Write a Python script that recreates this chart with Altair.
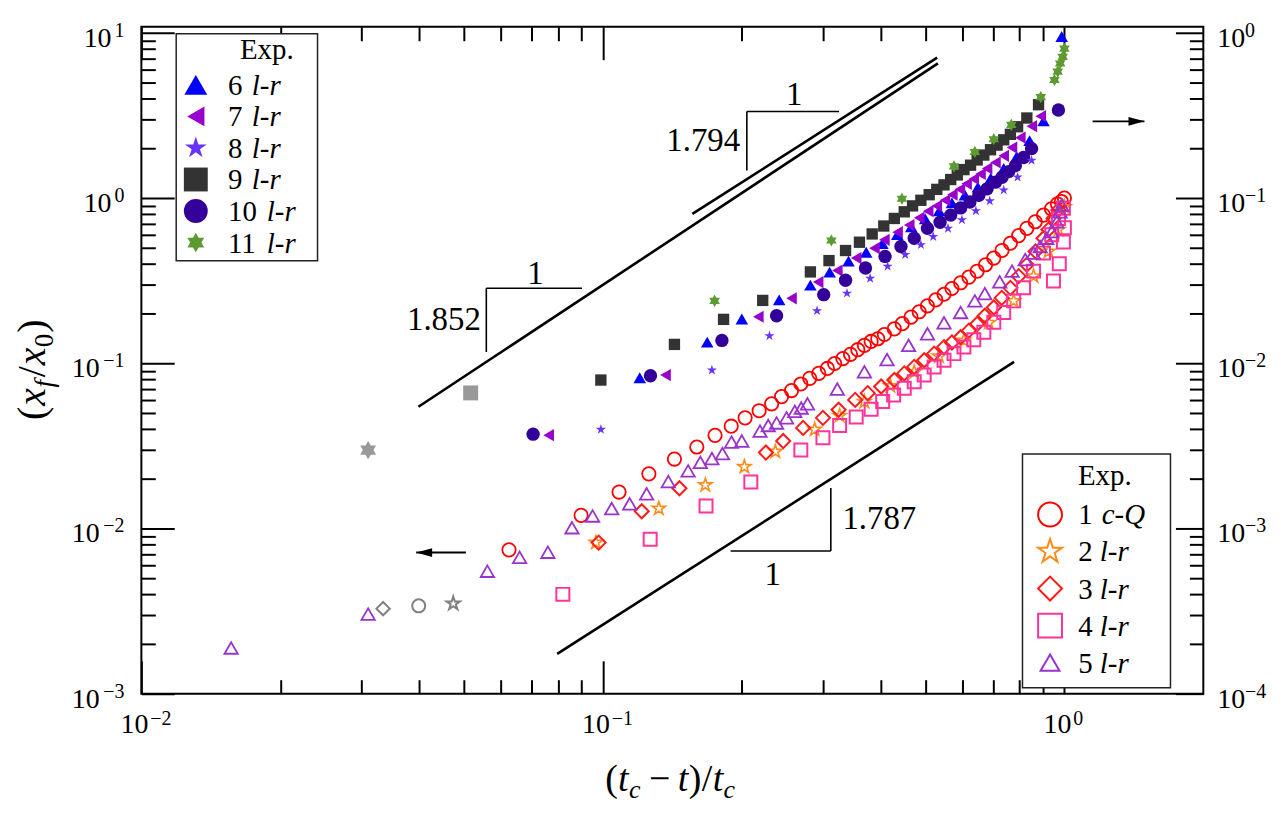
import altair as alt
import pandas as pd

# ---------------- data (x = (tc - t)/tc) ----------------
# left-axis series, y = x_f/x_0
s1_x = [0.0626, 0.0897, 0.1084, 0.1258, 0.1429, 0.1598, 0.1750, 0.1897, 0.2033, 0.2181, 0.2321, 0.2439,
        0.2563, 0.2685, 0.2807, 0.2936, 0.3065, 0.3178, 0.3311, 0.3440, 0.3567, 0.3687, 0.3813, 0.3941,
        0.4074, 0.4281, 0.4454, 0.4652, 0.4845, 0.5049, 0.5264, 0.5485, 0.5706, 0.5959, 0.6209, 0.6471,
        0.6747, 0.7031, 0.7325, 0.7638, 0.7960, 0.8292, 0.8647, 0.9010, 0.9375, 0.9659, 0.9852, 1.0]
s1_y = [0.00742, 0.0120, 0.0166, 0.0214, 0.0263, 0.0311, 0.0366, 0.0416, 0.0467, 0.0516, 0.0568, 0.0628,
        0.0683, 0.0749, 0.0810, 0.0868, 0.0930, 0.0996, 0.1067, 0.1132, 0.1208, 0.1282, 0.1355, 0.1406,
        0.1492, 0.1614, 0.1736, 0.1901, 0.2048, 0.2225, 0.2417, 0.2615, 0.2833, 0.3068, 0.3319, 0.3606,
        0.3944, 0.4330, 0.4815, 0.5324, 0.5922, 0.6550, 0.718, 0.788, 0.8593, 0.9206, 0.953, 1.0]

s2_x = [0.0966, 0.1322, 0.1667, 0.2026, 0.2364, 0.2877, 0.3258, 0.3687, 0.4196, 0.4727, 0.5351, 0.6058,
        0.6858, 0.7764, 0.8574, 0.9237, 0.9707, 1.0]
s2_y = [0.00821, 0.0132, 0.0183, 0.0236, 0.0292, 0.0397, 0.0481, 0.0584, 0.0728, 0.0883, 0.1101, 0.1374,
        0.1760, 0.2384, 0.3365, 0.475, 0.6435, 0.8834]

s3_x = [0.0979, 0.1214, 0.1465, 0.2256, 0.2459, 0.2716, 0.2998, 0.3242, 0.3521, 0.3749, 0.4008, 0.4281,
        0.4498, 0.4727, 0.4968, 0.5221, 0.5485, 0.5706, 0.5959, 0.6209, 0.6471, 0.6723, 0.7031, 0.7314,
        0.7638, 0.7960, 0.8292, 0.8660, 0.9010, 0.9237, 0.9469, 0.9707]
s3_y = [0.00821, 0.0127, 0.0175, 0.0288, 0.0338, 0.0406, 0.0467, 0.0523, 0.0600, 0.0659, 0.0723, 0.0791,
        0.0868, 0.0950, 0.1042, 0.1143, 0.1252, 0.1336, 0.1437, 0.1576, 0.1729, 0.1939, 0.2174, 0.2485,
        0.286, 0.3365, 0.395, 0.475, 0.571, 0.6435, 0.752, 0.8476]

s4_x = [0.0819, 0.1266, 0.1673, 0.2092, 0.2685, 0.2998, 0.3258, 0.3539, 0.3813, 0.4039, 0.4266, 0.4498,
        0.4727, 0.4968, 0.5221, 0.5485, 0.5765, 0.6058, 0.6364, 0.6690, 0.7031, 0.7388, 0.7764, 0.8157,
        0.8574, 0.9010, 0.9389, 0.9707, 0.9950, 0.9469, 0.9748, 0.9950, 1.0]
s4_y = [0.00399, 0.00859, 0.01367, 0.0191, 0.0298, 0.0354, 0.0420, 0.0473, 0.0527, 0.0587, 0.0643, 0.0706,
        0.0773, 0.0848, 0.0950, 0.1042, 0.1143, 0.1252, 0.1387, 0.1540, 0.1768, 0.2029, 0.2384, 0.2860,
        0.361, 0.464, 0.600, 0.752, 0.867, 0.315, 0.400, 0.541, 0.66]

s5_x = [0.01565, 0.0310, 0.0562, 0.0660, 0.0760, 0.0857, 0.0950, 0.1045, 0.1143, 0.1244, 0.1386, 0.1530,
        0.1626, 0.1723, 0.1816, 0.1900, 0.2000, 0.2190, 0.2282, 0.2379, 0.2500, 0.2605, 0.2690, 0.2775,
        0.3221, 0.3687, 0.4128, 0.4596, 0.5050, 0.5485, 0.5959, 0.6396, 0.6723, 0.7243, 0.7700, 0.8226,
        0.8574, 0.8862, 0.9160, 0.9389, 0.9625, 0.9789, 0.9867]
s5_y = [0.00189, 0.00303, 0.00551, 0.00668, 0.00718, 0.0101, 0.0119, 0.0132, 0.0141, 0.0162, 0.0192, 0.0223,
        0.0251, 0.0265, 0.0284, 0.0333, 0.0338, 0.0388, 0.0420, 0.0435, 0.0467, 0.0511, 0.0536, 0.0568,
        0.0698, 0.0887, 0.1052, 0.1282, 0.1506, 0.1757, 0.2029, 0.2384, 0.2636, 0.311, 0.361, 0.424,
        0.464, 0.509, 0.571, 0.626, 0.718, 0.825, 0.904]

# grey (excluded) points, left axis: diamond, circle, star
grey_open_x = [0.0334, 0.0399, 0.0474]
grey_open_y = [0.00327, 0.00340, 0.00351]

# right-axis series (right-axis units)
s6_x = [0.1202, 0.1683, 0.2000, 0.2410, 0.2816, 0.3100, 0.3406, 0.3720, 0.4033, 0.4344, 0.4658, 0.4993,
        0.5351, 0.5706, 0.6088, 0.6494, 0.6925, 0.7388, 0.7880, 0.8405, 0.9010, 0.9867]
s6_y = [0.00817, 0.01342, 0.01852, 0.02417, 0.0297, 0.0356, 0.0415, 0.0470, 0.0530, 0.0600, 0.0670, 0.0749,
        0.0836, 0.0934, 0.1042, 0.1164, 0.1318, 0.151, 0.178, 0.2225, 0.293, 0.95]

s7_x = [0.0763, 0.1367, 0.2172, 0.2563, 0.2927, 0.3221, 0.3539, 0.3877, 0.4074, 0.4351, 0.4611, 0.4846,
        0.5068, 0.5291, 0.5512, 0.5717, 0.5939, 0.6139, 0.6364, 0.6581, 0.6801, 0.7091, 0.7388, 0.7700,
        0.8026, 0.8500, 0.8889]
s7_y = [0.00367, 0.00848, 0.01912, 0.0247, 0.0310, 0.0364, 0.0433, 0.0497, 0.0558, 0.0621, 0.0686, 0.0759,
        0.0833, 0.0896, 0.0969, 0.1047, 0.1128, 0.1218, 0.1305, 0.1398, 0.151, 0.164, 0.180, 0.202,
        0.232, 0.272, 0.313]

s8_x = [0.0990, 0.1723, 0.2296, 0.2911, 0.3380, 0.3794, 0.4140, 0.4520, 0.4887, 0.5197, 0.5595, 0.5998,
        0.6430, 0.6891, 0.7388, 0.7918, 0.8490]
s8_y = [0.00397, 0.00908, 0.01465, 0.02077, 0.0265, 0.0326, 0.0386, 0.0454, 0.0521, 0.0584, 0.0655, 0.0738,
        0.0836, 0.0959, 0.1117, 0.1336, 0.1688]

s9_x = [0.0990, 0.1429, 0.1826, 0.2220, 0.2816, 0.3090, 0.3356, 0.3597, 0.3833, 0.4061, 0.4281, 0.4498,
        0.4688, 0.4887, 0.5094, 0.5291, 0.5485, 0.5671, 0.5860, 0.6058, 0.6261, 0.6471, 0.6690, 0.6917,
        0.7147, 0.7388, 0.7638, 0.7918, 0.8292, 0.8790]
s9_y = [0.00791, 0.0130, 0.01843, 0.0240, 0.0357, 0.0418, 0.0481, 0.0540, 0.0606, 0.0677, 0.0752, 0.0825,
        0.0896, 0.0969, 0.1047, 0.1128, 0.1201, 0.1294, 0.1379, 0.1486, 0.158, 0.170, 0.182, 0.196,
        0.209, 0.225, 0.243, 0.270, 0.305, 0.367]

s10_x = [0.0706, 0.1268, 0.1811, 0.2379, 0.3009, 0.3356, 0.3707, 0.4087, 0.4425, 0.4727, 0.5050, 0.5378,
         0.5671, 0.5959, 0.6241, 0.6526, 0.6801, 0.7091, 0.7326, 0.7574, 0.7830, 0.8157, 0.8490, 0.9707]
s10_y = [0.00372, 0.0084, 0.01374, 0.01939, 0.0260, 0.0318, 0.0377, 0.0443, 0.0509, 0.0571, 0.0655, 0.0713,
         0.0788, 0.0871, 0.0946, 0.1040, 0.1137, 0.1247, 0.1336, 0.1445, 0.157, 0.176, 0.199, 0.341]

s11_x = [0.1746, 0.3127, 0.4446, 0.5765, 0.6396, 0.7031, 0.7673, 0.8889, 0.9516, 0.9673, 0.9789, 0.9916, 1.0]
s11_y = [0.02384, 0.0553, 0.0990, 0.1555, 0.190, 0.227, 0.277, 0.408, 0.518, 0.582, 0.652, 0.715, 0.802]

# grey (excluded) filled points, right axis: square, hexagram
grey_fill_x = [0.0517, 0.0310]
grey_fill_y = [0.00661, 0.00298]

# power-law guide lines (left-axis units)
line_x1 = [0.03985, 0.1563, 0.0796]
line_y1 = [0.0545, 0.801, 0.00174]
line_x2 = [0.532, 0.530, 0.778]
line_y2 = [6.53, 7.07, 0.1019]

# slope triangles
tri_x1 = [0.0559, 0.0559, 0.2051, 0.2051, 0.1891, 0.3118]
tri_y1 = [0.2842, 0.2842, 3.342, 3.342, 0.0073, 0.0073]
tri_x2 = [0.0901, 0.0559, 0.3249, 0.2051, 0.3118, 0.3118]
tri_y2 = [0.2842, 0.1169, 3.342, 1.469, 0.0073, 0.01759]

slope_r_text = ["1.852", "1.794"]
slope_r_x = [0.0544, 0.1984]
slope_r_y = [0.1815, 2.205]
slope_c_text = ["1", "1", "1"]
slope_c_x = [0.0714, 0.2599, 0.2334]
slope_c_y = [0.347, 4.214, 0.00521]
slope_l_text = ["1.787"]
slope_l_x = [0.3304]
slope_l_y = [0.01133]

# arrows (tail -> tip)
arrow_x1 = [0.0505, 1.151]
arrow_x2 = [0.0394, 1.491]
arrow_y = [0.00714, 2.91]

# ticks and tick labels
x_major = [0.01, 0.1, 1.0]
x_sup = ["\u22122", "\u22121", "0"]
x_minor = [0.02, 0.03, 0.04, 0.05, 0.06, 0.07, 0.08, 0.09, 0.2, 0.3, 0.4, 0.5, 0.6, 0.7, 0.8, 0.9]
y_major = [0.001, 0.01, 0.1, 1.0, 10.0]
y_left_sup = ["\u22123", "\u22122", "\u22121", "0", "1"]
y_right_sup = ["\u22124", "\u22123", "\u22122", "\u22121", "0"]
y_minor = [0.002, 0.003, 0.004, 0.005, 0.006, 0.007, 0.008, 0.009,
           0.02, 0.03, 0.04, 0.05, 0.06, 0.07, 0.08, 0.09,
           0.2, 0.3, 0.4, 0.5, 0.6, 0.7, 0.8, 0.9,
           2, 3, 4, 5, 6, 7, 8, 9]

left_leg_num = ["6", "7", "8", "9", "10", "11"]
left_leg_name = ["l-r", "l-r", "l-r", "l-r", "l-r", "l-r"]
right_leg_num = ["1", "2", "3", "4", "5"]
right_leg_name = ["c-Q", "l-r", "l-r", "l-r", "l-r"]

# ---------------- styling ----------------
SERIF = "Liberation Serif, Times New Roman, Times, DejaVu Serif, serif"
X_SCALE = alt.Scale(type="log", domain=[0.01, 2.0], nice=False)
Y_SCALE = alt.Scale(type="log", domain=[0.001, 10.87], nice=False)
W, H = 1067, 670

STAR = ("M0,-1L0.2245,-0.309L0.9511,-0.309L0.3633,0.118L0.5878,0.809L0,0.382"
        "L-0.5878,0.809L-0.3633,0.118L-0.9511,-0.309L-0.2245,-0.309Z")
HEX = ("M0,-1L0.2887,-0.5L0.866,-0.5L0.577,0L0.866,0.5L0.2887,0.5L0,1L-0.2887,0.5"
       "L-0.866,0.5L-0.577,0L-0.866,-0.5L-0.2887,-0.5Z")
HEAD_L = "M0,0L2,-0.55L2,0.55Z"
HEAD_R = "M0,0L-2,-0.55L-2,0.55Z"

one = pd.DataFrame({"a": [0]})


def xy(df_x, df_y):
    return pd.DataFrame({"x": df_x, "y": df_y})


def enc(chart, yfield="y"):
    return chart.encode(
        x=alt.X("x:Q", scale=X_SCALE, axis=None),
        y=alt.Y(f"{yfield}:Q", scale=Y_SCALE, axis=None),
    )


def pts(xs, ys, shape, size, color, filled, sw=2.0, right=False):
    base = alt.Chart(xy(xs, ys))
    yfield = "y"
    if right:
        base = base.transform_calculate(yl="datum.y * 10")
        yfield = "yl"
    if filled:
        m = base.mark_point(shape=shape, size=size, filled=True, fill=color, strokeWidth=0, opacity=1)
    else:
        m = base.mark_point(shape=shape, size=size, filled=False, stroke=color, strokeWidth=sw, opacity=1)
    return enc(m, yfield)


AX = dict(domain=False, grid=False, ticks=True, tickColor="black", tickWidth=2, title=None, labels=False)

ax_b_major = alt.Axis(orient="bottom", values=x_major, tickSize=33, offset=-33, **AX)
ax_b_minor = alt.Axis(orient="bottom", values=x_minor, tickSize=14, offset=-14, **AX)
ax_t_major = alt.Axis(orient="top", values=x_major, tickSize=33, offset=-33, **AX)
ax_t_minor = alt.Axis(orient="top", values=x_minor, tickSize=14, offset=-14, **AX)
ax_l_major = alt.Axis(orient="left", values=y_major, tickSize=33, offset=-33, **AX)
ax_l_minor = alt.Axis(orient="left", values=y_minor, tickSize=14, offset=-14, **AX)
ax_r_major = alt.Axis(orient="right", values=y_major, tickSize=28, offset=-28, **AX)
ax_r_minor = alt.Axis(orient="right", values=y_minor, tickSize=14, offset=-14, **AX)

anchor = pd.DataFrame({"x": [1.0], "y": [1.0]})


def axis_layer(xa, ya):
    return alt.Chart(anchor).mark_point(opacity=0).encode(
        x=alt.X("x:Q", scale=X_SCALE, axis=xa),
        y=alt.Y("y:Q", scale=Y_SCALE, axis=ya),
    )


def txt(s, x, y, size, italic=False, angle=None, align="left", baseline="alphabetic"):
    kw = dict(text=s, font=SERIF, fontSize=size, color="black", align=align, baseline=baseline)
    if italic:
        kw["fontStyle"] = "italic"
    if angle is not None:
        kw["angle"] = angle
    return alt.Chart(one).mark_text(**kw).encode(x=alt.value(x), y=alt.value(y))


def sym(x, y, shape, size, color, filled, sw=2.0):
    if filled:
        m = alt.Chart(one).mark_point(shape=shape, size=size, filled=True, fill=color, strokeWidth=0, opacity=1)
    else:
        m = alt.Chart(one).mark_point(shape=shape, size=size, filled=False, stroke=color, strokeWidth=sw, opacity=1)
    return m.encode(x=alt.value(x), y=alt.value(y))


def xlab(vals, texts, ypix, size, align, dx):
    df = pd.DataFrame({"x": vals, "t": texts})
    return alt.Chart(df).mark_text(font=SERIF, fontSize=size, color="black", align=align,
                                   baseline="alphabetic", dx=dx).encode(
        x=alt.X("x:Q", scale=X_SCALE, axis=None), y=alt.value(ypix), text="t:N")


def ylab(vals, texts, xpix, size, align, dy):
    df = pd.DataFrame({"y": vals, "t": texts})
    return alt.Chart(df).mark_text(font=SERIF, fontSize=size, color="black", align=align,
                                   baseline="alphabetic", dy=dy).encode(
        y=alt.Y("y:Q", scale=Y_SCALE, axis=None), x=alt.value(xpix), text="t:N")


layers = []
# axes (ticks only)
layers += [axis_layer(ax_b_major, ax_l_major), axis_layer(ax_b_minor, ax_l_minor),
           axis_layer(ax_t_major, ax_r_major), axis_layer(ax_t_minor, ax_r_minor)]

# tick labels 10^n drawn as base + superscript
TEN = ["10"] * 5
layers.append(xlab(x_major, TEN[:3], H + 40, 28, "right", 7))
layers.append(xlab(x_major, x_sup, H + 32, 20, "left", 9))
layers.append(ylab(y_major[:3], TEN[:3], -42, 28, "right", 14))
layers.append(ylab(y_major[3:], TEN[:2], -30, 28, "right", 14))
layers.append(ylab(y_major, y_left_sup, -17, 20, "right", 4))
layers.append(ylab(y_major, TEN, W + 14, 28, "left", 14))
layers.append(ylab(y_major, y_right_sup, W + 42, 20, "left", 4))

# guide lines
lines_df = pd.DataFrame({"x": line_x1, "y": line_y1, "x2": line_x2, "y2": line_y2})
layers.append(enc(alt.Chart(lines_df).mark_rule(color="black", strokeWidth=2.6)).encode(x2="x2:Q", y2="y2:Q"))
tri_df = pd.DataFrame({"x": tri_x1, "y": tri_y1, "x2": tri_x2, "y2": tri_y2})
layers.append(enc(alt.Chart(tri_df).mark_rule(color="black", strokeWidth=1.6)).encode(x2="x2:Q", y2="y2:Q"))

for texts, xs, ys, al in [(slope_r_text, slope_r_x, slope_r_y, "right"),
                          (slope_c_text, slope_c_x, slope_c_y, "center"),
                          (slope_l_text, slope_l_x, slope_l_y, "left")]:
    df = pd.DataFrame({"x": xs, "y": ys, "t": texts})
    layers.append(enc(alt.Chart(df).mark_text(font=SERIF, fontSize=33, color="black", align=al,
                                              baseline="middle")).encode(text="t:N"))

# arrows
arr_df = pd.DataFrame({"x": arrow_x1, "x2": arrow_x2, "y": arrow_y})
layers.append(enc(alt.Chart(arr_df).mark_rule(color="black", strokeWidth=2)).encode(x2="x2:Q"))
layers.append(pts([arrow_x2[0]], [arrow_y[0]], HEAD_L, 256, "black", True))
layers.append(pts([arrow_x2[1]], [arrow_y[1]], HEAD_R, 256, "black", True))

# right-axis series (filled)
layers.append(pts(grey_fill_x[:1], grey_fill_y[:1], "square", 225, "#999999", True, right=True))
layers.append(pts(grey_fill_x[1:], grey_fill_y[1:], HEX, 340, "#999999", True, right=True))
layers.append(pts(s9_x, s9_y, "square", 130, "#333333", True, right=True))
layers.append(pts(s11_x, s11_y, HEX, 150, "#5E9A32", True, right=True))
layers.append(pts(s6_x, s6_y, "triangle-up", 160, "#0000FF", True, right=True))
layers.append(pts(s7_x, s7_y, "triangle-left", 150, "#9900CC", True, right=True))
layers.append(pts(s10_x, s10_y, "circle", 180, "#330099", True, right=True))
layers.append(pts(s8_x, s8_y, STAR, 115, "#6633FF", True, right=True))

# left-axis series (open)
layers.append(pts(grey_open_x[:1], grey_open_y[:1], "diamond", 180, "#808080", False))
layers.append(pts(grey_open_x[1:2], grey_open_y[1:2], "circle", 170, "#808080", False))
layers.append(pts(grey_open_x[2:], grey_open_y[2:], STAR, 200, "#808080", False))
layers.append(pts(s1_x, s1_y, "circle", 180, "#FF0000", False, 1.8))
layers.append(pts(s2_x, s2_y, STAR, 200, "#FF8C1A", False, 1.6))
layers.append(pts(s3_x, s3_y, "diamond", 200, "#FF1A1A", False, 2.0))
layers.append(pts(s4_x, s4_y, "square", 170, "#FF3399", False, 2.0))
layers.append(pts(s5_x, s5_y, "triangle-up", 180, "#9933CC", False, 1.8))

# ---------------- legends (manual) ----------------
layers.append(alt.Chart(one).mark_rect(fill="white", stroke="#222222", strokeWidth=1.5).encode(
    x=alt.value(35), x2=alt.value(177), y=alt.value(7), y2=alt.value(235)))
layers.append(txt("Exp.", 126, 23, 29, align="center", baseline="middle"))
left_syms = [("triangle-up", 529, "#0000FF"), ("triangle-left", 400, "#9900CC"), (STAR, 530, "#6633FF"),
             ("square", 576, "#333333"), ("circle", 576, "#330099"), (HEX, 385, "#5E9A32")]
for i, (shp, sz, col) in enumerate(left_syms):
    yy = 58.3 + i * 31.7
    layers.append(sym(54.7, yy, shp, sz, col, True))
    layers.append(txt(left_leg_num[i], 87, yy + 1, 29, baseline="middle"))
    layers.append(txt(left_leg_name[i], 111 if len(left_leg_num[i]) == 1 else 126, yy + 1, 29,
                      italic=True, baseline="middle"))

layers.append(alt.Chart(one).mark_rect(fill="white", stroke="#222222", strokeWidth=1.5).encode(
    x=alt.value(885.3), x2=alt.value(1034), y=alt.value(429.3), y2=alt.value(664)))
layers.append(txt("Exp.", 968, 451.7, 29, align="center", baseline="middle"))
right_syms = [("circle", 576, "#FF0000"), (STAR, 640, "#FF8C1A"), ("diamond", 576, "#FF1A1A"),
              ("square", 576, "#FF3399"), ("triangle-up", 361, "#9933CC")]
for i, (shp, sz, col) in enumerate(right_syms):
    yy = 490 + i * 37.2
    layers.append(sym(913, yy, shp, sz, col, False, 2.0))
    layers.append(txt(right_leg_num[i], 941.3, yy + 1, 29, baseline="middle"))
    layers.append(txt(right_leg_name[i], 965 if right_leg_name[i] == "c-Q" else 963, yy + 1, 29,
                      italic=True, baseline="middle"))

# ---------------- axis titles ----------------
# y: (x_f / x_0), rotated
YB, YS = -97, -89
layers += [
    txt("(", YB, 395, 40, angle=270),
    txt("x", YB, 380.7, 40, italic=True, angle=270),
    txt("f", YS, 362.5, 27, italic=True, angle=270),
    txt("/", YB, 352, 40, angle=270),
    txt("x", YB, 340, 40, italic=True, angle=270),
    txt("0", YS, 322, 27, angle=270),
    txt(")", YB, 307.5, 40, angle=270),
]
# x: (t_c - t)/t_c
XB, XS = 768, 775
layers += [
    txt("(", 466, XB, 38),
    txt("t", 479, XB, 38, italic=True),
    txt("c", 490, XS, 26, italic=True),
    txt("\u2212", 510, XB, 38),
    txt("t", 539, XB, 38, italic=True),
    txt(")", 550, XB, 38),
    txt("/", 563, XB, 38),
    txt("t", 574, XB, 38, italic=True),
    txt("c", 585, XS, 26, italic=True),
]

chart = alt.layer(*layers).resolve_axis(x="independent", y="independent").properties(
    width=W, height=H,
    autosize=alt.AutoSizeParams(type="none"),
    padding={"left": 134, "top": 17, "right": 68, "bottom": 116},
    background="white",
).configure_view(stroke="black", strokeWidth=2)

chart.save("out.html", embed_options={"renderer": "svg", "actions": False})
